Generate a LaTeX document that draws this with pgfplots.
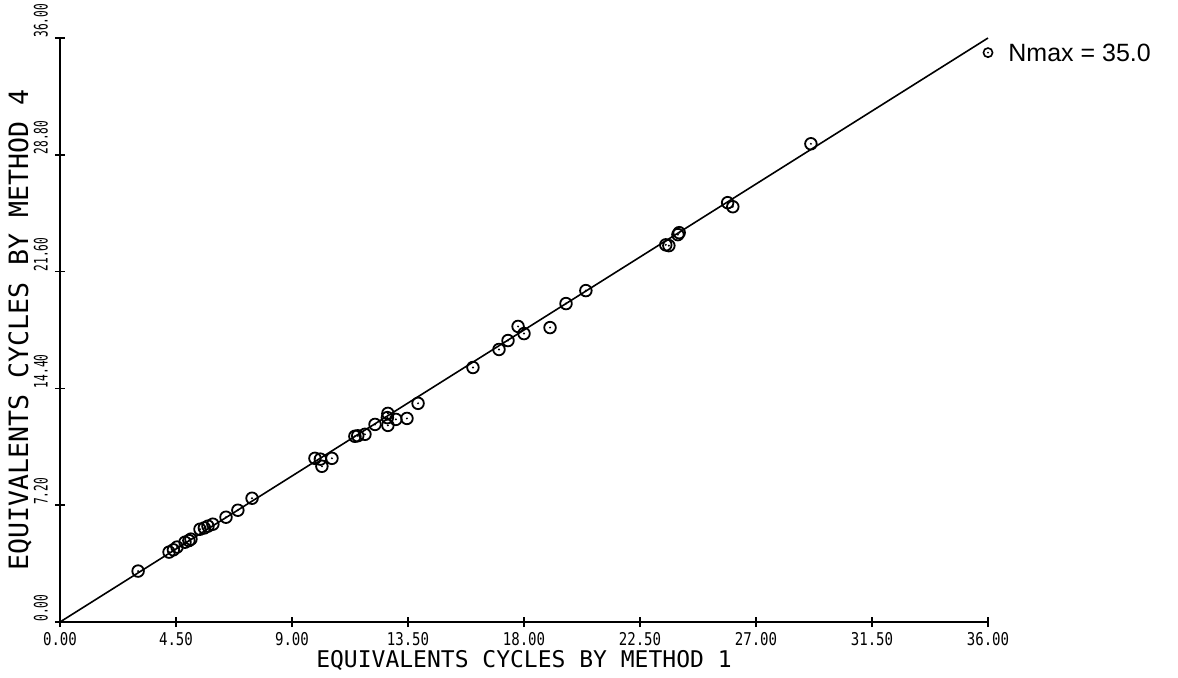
\documentclass[border=0pt]{standalone}
\usepackage{pgfplots}
\pgfplotsset{compat=1.18}
\usepackage{fontspec}
\setmainfont{Liberation Sans}
\newfontfamily\plotfont{DejaVu Sans Mono}
\newfontfamily\xtickfont[FakeStretch=0.8]{DejaVu Sans Mono}
\newfontfamily\ytickfont[FakeStretch=0.6]{DejaVu Sans Mono}

% circle with a small dot inside, like the plotter symbol
\pgfdeclareplotmark{cdot}{%
  \pgfpathcircle{\pgfpoint{0pt}{0pt}}{\pgfplotmarksize}\pgfusepathqstroke
  \pgfpathcircle{\pgfpoint{0pt}{0pt}}{0.55pt}\pgfusepathqfill}

\pgfplotstableread{
x y
3.03 3.14
4.23 4.31
4.40 4.45
4.54 4.62
4.85 4.92
5.00 5.02
5.08 5.11
5.43 5.72
5.60 5.80
5.74 5.91
5.93 6.03
6.44 6.46
6.90 6.89
7.45 7.63
9.89 10.09
10.10 10.04
10.16 9.60
10.55 10.09
11.44 11.45
11.55 11.48
11.83 11.57
12.22 12.18
12.72 12.86
12.70 12.60
12.72 12.12
13.03 12.49
13.46 12.55
13.89 13.48
16.02 15.69
17.03 16.80
17.38 17.35
17.77 18.22
18.00 17.78
19.01 18.15
19.63 19.63
20.40 20.43
23.50 23.25
23.62 23.20
23.97 23.88
24.02 24.00
25.90 25.85
26.10 25.60
29.13 29.48
}\pointsdata

\begin{document}
\begin{tikzpicture}
\begin{axis}[
    name=ax, at={(0,0)}, anchor=south west,
    scale only axis,
    width=464pt, height=292pt,
    xmin=0, xmax=36, ymin=0, ymax=36,
    axis lines=left,
    axis line style={-, line width=0.9pt},
    xtick={0,4.5,9,13.5,18,22.5,27,31.5,36},
    xticklabels={0.00,4.50,9.00,13.50,18.00,22.50,27.00,31.50,36.00},
    ytick={0,7.2,14.4,21.6,28.8,36},
    yticklabels={0.00,7.20,14.40,21.60,28.80,36.00},
    tick align=center,
    major tick length=5pt,
    tick style={black, line width=0.8pt},
    xticklabel style={font=\xtickfont\fontsize{8.8}{9}\selectfont, anchor=north, yshift=1pt},
    yticklabel style={font=\ytickfont\fontsize{9.3}{9.5}\selectfont, rotate=90,
        anchor=south west, inner xsep=0pt, xshift=0pt},
    xlabel={EQUIVALENTS CYCLES BY METHOD 1},
    ylabel={EQUIVALENTS CYCLES BY METHOD 4},
    xlabel style={font=\plotfont\fontsize{11.5}{12}\selectfont,
        at={(axis description cs:0.5,0)}, anchor=center, yshift=-19pt},
    ylabel style={font=\plotfont\fontsize{13.3}{14}\selectfont,
        at={(axis description cs:-0.043,0.5)}, anchor=center},
    clip=false,
]
\addplot[black, line width=0.8pt] coordinates {(0,0) (36,36)};
\addplot[only marks, mark=cdot, mark size=2.9pt, mark options={black, line width=0.9pt}]
    table[x=x, y=y] {\pointsdata};
\addplot[only marks, mark=cdot, mark size=2.3pt, mark options={black, line width=0.8pt}]
    coordinates {(36,35.1)};
\node[anchor=west, font=\fontsize{12.5}{13}\selectfont, inner sep=0pt]
    at (axis cs:36,35.1) [xshift=10pt] {Nmax = 35.0};
\end{axis}
\pgfresetboundingbox
\path[use as bounding box] (-30pt,-27.5pt) rectangle (559pt,311pt);
\end{tikzpicture}
\end{document}
